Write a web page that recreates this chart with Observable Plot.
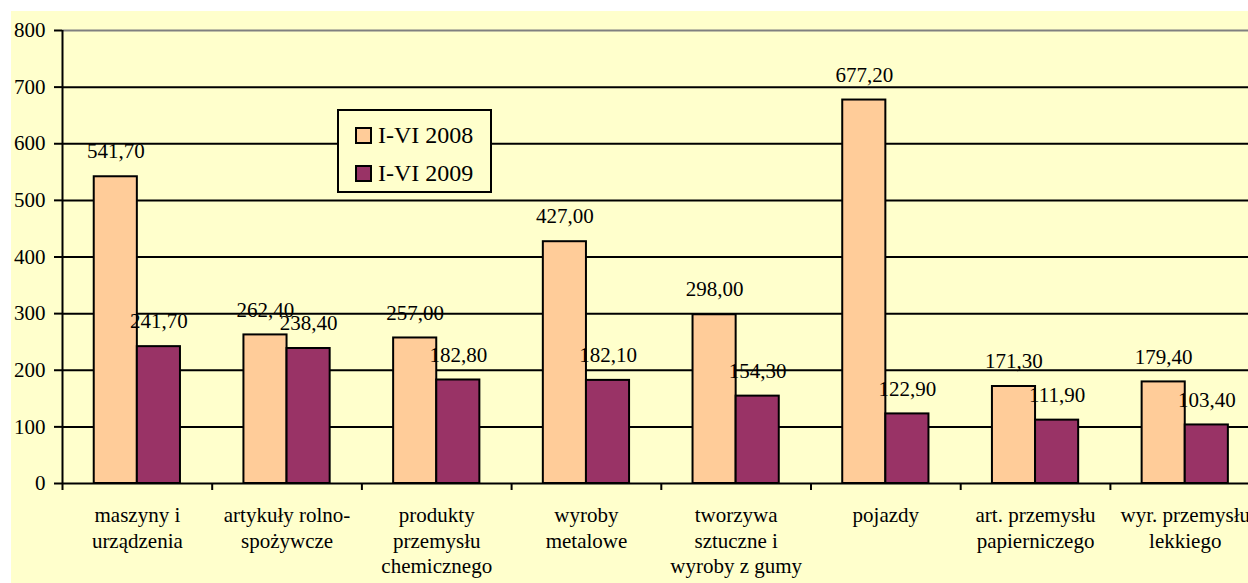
<!DOCTYPE html>
<html><head><meta charset="utf-8">
<script src="https://cdn.jsdelivr.net/npm/d3@7"></script>
<script src="https://cdn.jsdelivr.net/npm/@observablehq/plot@0.6"></script>
<style>
body{margin:0;background:#fff;color:#000;font-family:"Liberation Serif","Times New Roman",serif;}
#wrap{position:relative;width:1248px;height:583px;overflow:hidden;}
#bg{position:absolute;left:11px;top:11px;right:0;bottom:0;background:#FFFFCC;}
#chart{position:absolute;left:0;top:0;}
#chart svg, #chart svg text{font-family:"Liberation Serif","Times New Roman",serif !important;}
#chart svg{background:transparent !important;color:#000;}
#legend{position:absolute;left:337px;top:109px;width:151px;height:80px;border:2px solid #000;background:#FFFFCC;font-size:24px;box-sizing:content-box;}
#legend .row{position:absolute;left:16px;display:flex;align-items:center;white-space:nowrap;line-height:1;}
#legend .sw{width:13px;height:13px;border:2px solid #000;margin-right:6px;}
</style></head>
<body><div id="wrap"><div id="bg"></div><div id="chart"></div><div id="legend"></div></div>
<script>
const categories = ["maszyny i urządzenia","artykuły rolno-spożywcze","produkty przemysłu chemicznego","wyroby metalowe","tworzywa sztuczne i wyroby z gumy","pojazdy","art. przemysłu papierniczego","wyr. przemysłu lekkiego"];
const categoryLabels = ["maszyny i\nurządzenia","artykuły rolno-\nspożywcze","produkty\nprzemysłu\nchemicznego","wyroby\nmetalowe","tworzywa\nsztuczne i\nwyroby z gumy","pojazdy","art. przemysłu\npapierniczego","wyr. przemysłu\nlekkiego"];
const seriesNames = ["I-VI 2008","I-VI 2009"];
const values2008 = [541.7, 262.4, 257.0, 427.0, 298.0, 677.2, 171.3, 179.4];
const values2009 = [241.7, 238.4, 182.8, 182.1, 154.3, 122.9, 111.9, 103.4];
const yTicks = [0,100,200,300,400,500,600,700,800];
const colors = ["#FFCC99","#993366"];
const FONT = "Liberation Serif";

// layout of the two bars inside each category band (fractions of the band)
const groupPad = 0.212, barFrac = 0.288;

const rows = [];
categories.forEach((c, i) => {
  [values2008, values2009].forEach((vals, s) => {
    rows.push({category: c, i, s, series: seriesNames[s], value: vals[i]});
  });
});
const x1 = d => d.i + groupPad + d.s * barFrac;
const x2 = d => d.i + groupPad + (d.s + 1) * barFrac;
const fmt = v => v.toFixed(2).replace(".", ",");

const chart = Plot.plot({
  width: 1248,
  height: 583,
  marginTop: 30,
  marginBottom: 100,
  marginLeft: 62,
  marginRight: 0,
  style: "font-family:'Liberation Serif',serif;background:transparent;color:#000;",
  x: {type: "linear", domain: [0, categories.length], range: [62, 1259.6], axis: null, label: null},
  y: {domain: [0, 800], axis: null, label: null},
  color: {domain: seriesNames, range: colors},
  marks: [
    Plot.ruleY(yTicks.filter(v => v > 0 && v < 800), {stroke: "#000", strokeWidth: 2}),
    Plot.ruleY([800], {stroke: "#808080", strokeWidth: 2}),
    Plot.rectY(rows, {x1, x2, y1: 0, y2: "value", fill: "series", stroke: "#000", strokeWidth: 2}),
    Plot.ruleX([0], {stroke: "#000", strokeWidth: 2}),
    Plot.ruleY([0], {stroke: "#000", strokeWidth: 2}),
    Plot.axisY({ticks: yTicks, tickSize: 8, tickPadding: 9, fontSize: 21, fontFamily: FONT, strokeWidth: 2, label: null, tickFormat: d => String(d)}),
    Plot.axisX({ticks: d3.range(categories.length + 1), tickSize: 7, strokeWidth: 2, label: null, tickFormat: () => ""}),
    Plot.text(rows, {x: d => (x1(d) + x2(d)) / 2, y: "value", text: d => fmt(d.value), dy: -25, fontSize: 21, fontFamily: FONT, lineAnchor: "middle", fill: "#000"}),
    Plot.text(categories, {x: (d, i) => i + 0.5, text: (d, i) => categoryLabels[i], frameAnchor: "bottom", dy: 21, lineAnchor: "top", fontSize: 21, fontFamily: FONT, lineHeight: 1.2, fill: "#000"})
  ]
});
document.getElementById("chart").appendChild(chart);

const legend = document.getElementById("legend");
const rowTops = [12, 50];
seriesNames.forEach((name, s) => {
  const r = document.createElement("div");
  r.className = "row";
  r.style.top = rowTops[s] + "px";
  const sw = document.createElement("div");
  sw.className = "sw";
  sw.style.background = colors[s];
  const t = document.createElement("span");
  t.textContent = name;
  r.appendChild(sw); r.appendChild(t);
  legend.appendChild(r);
});
</script>
</body></html>
